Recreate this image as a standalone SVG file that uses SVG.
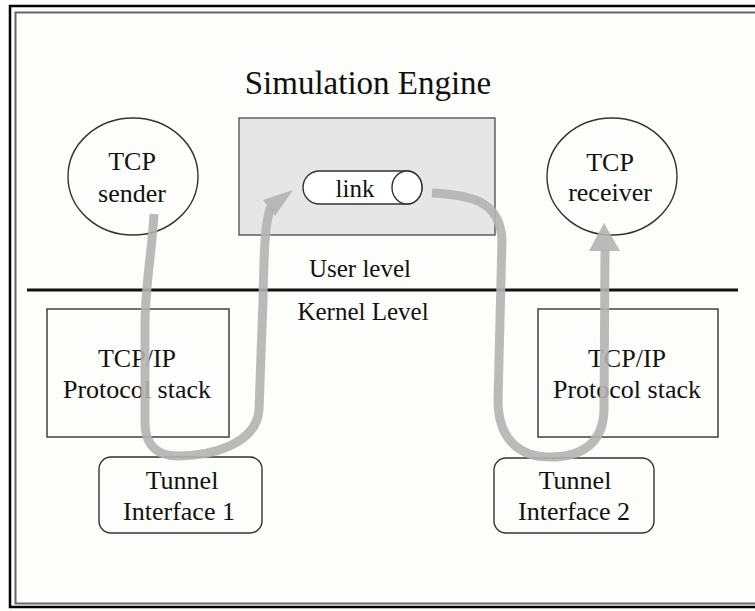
<svg xmlns="http://www.w3.org/2000/svg" width="755" height="611" viewBox="0 0 755 611">
<style>
  text { font-family: "Liberation Serif", "Times New Roman", serif; fill: #111; text-anchor: middle; }
  .lbl { font-size: 26px; }
  .lvl { font-size: 25px; }
  .node { fill: none; stroke: #333; stroke-width: 1.4; }
  .flow { fill: none; stroke: #b3b3b3; stroke-width: 9; opacity: 0.9; }
  .head { fill: #b3b3b3; opacity: 0.9; }
</style>
<rect width="755" height="611" fill="#fdfdfb"/>
<!-- frame -->
<rect x="10" y="6" width="760" height="601" fill="none" stroke="#000" stroke-width="2.5"/>
<rect x="15.5" y="12.5" width="760" height="591" fill="none" stroke="#666" stroke-width="2"/>

<text x="368" y="94" style="font-size:33px">Simulation Engine</text>
<line x1="27" y1="290" x2="738" y2="290" stroke="#111" stroke-width="3"/>
<text class="lvl" x="360" y="277">User level</text>
<text class="lvl" x="363" y="320">Kernel Level</text>

<g id="sim-engine">
  <rect x="239" y="118" width="256" height="117" fill="#e6e6e6" stroke="#555" stroke-width="1.4"/>
</g>
<g id="link">
  <path d="M319.5 171 H407 A15 16.5 0 0 1 407 204 H319.5 A16.5 16.5 0 0 1 319.5 171 Z" fill="#fff" stroke="#333" stroke-width="1.4"/>
  <ellipse cx="407" cy="187.5" rx="15" ry="16.5" fill="#fff" stroke="#333" stroke-width="1.4"/>
  <text x="355" y="197" style="font-size:25px">link</text>
</g>
<g id="tcp-sender">
  <ellipse class="node" cx="133" cy="176.5" rx="65" ry="58.5"/>
  <text class="lbl" x="132" y="170">TCP</text>
  <text class="lbl" x="132" y="202">sender</text>
</g>
<g id="tcp-receiver">
  <ellipse class="node" cx="612" cy="176.5" rx="65" ry="58.5"/>
  <text class="lbl" x="610" y="171">TCP</text>
  <text class="lbl" x="610" y="201">receiver</text>
</g>
<g id="stack-left">
  <rect class="node" x="47" y="309" width="182" height="128"/>
  <text class="lbl" x="137" y="367">TCP/IP</text>
  <text class="lbl" x="137" y="398">Protocol stack</text>
</g>
<g id="stack-right">
  <rect class="node" x="538" y="309" width="180" height="128"/>
  <text class="lbl" x="627" y="367">TCP/IP</text>
  <text class="lbl" x="627" y="398">Protocol stack</text>
</g>
<g id="tunnel-1">
  <rect class="node" x="99" y="457" width="163" height="76" rx="12"/>
  <text class="lbl" x="182" y="489">Tunnel</text>
  <text class="lbl" x="179" y="520">Interface 1</text>
</g>
<g id="tunnel-2">
  <rect class="node" x="494" y="458" width="160" height="75" rx="12"/>
  <text class="lbl" x="575" y="489">Tunnel</text>
  <text class="lbl" x="574" y="520">Interface 2</text>
</g>

<g id="connectors">
  <path class="flow" d="M154 214 C152 250 146 280 145 320 L145 425 C146 448 160 456 177 456 C210 456 256 445 259 410 L263 300 C264 250 265 220 271 207"/>
  <polygon class="head" points="293,190 263,200 275,216"/>
  <path class="flow" d="M432 193 C470 195 500 200 502 240 L498 400 C498 440 520 457 550 457 C580 457 603 445 604 410 L605 250"/>
  <polygon class="head" points="604,223 589,251 620,251"/>
</g>
</svg>
